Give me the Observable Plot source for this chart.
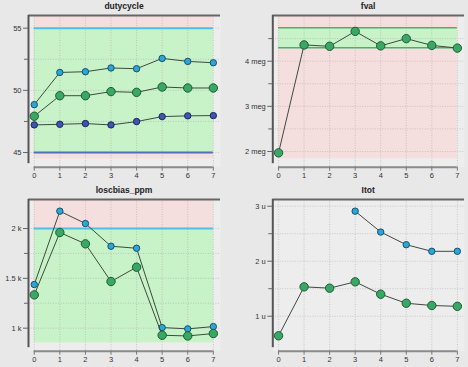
<!DOCTYPE html>
<html><head><meta charset="utf-8">
<script src="https://cdn.jsdelivr.net/npm/d3@7"></script>
<script src="https://cdn.jsdelivr.net/npm/@observablehq/plot@0.6"></script>
<style>
body{margin:0;background:#e8e8e8;font-family:"Liberation Sans",Arial,sans-serif}
#wrap{position:relative;width:468px;height:367px;overflow:hidden}
.panel{position:absolute;width:234px;height:184px}
.title{position:absolute;top:0;height:12px;font-weight:bold;font-size:8.5px;text-align:center;line-height:12px;color:#222}
.panel svg{position:absolute;top:12px;left:0}
</style></head>
<body><div id="wrap"></div>
<script>
// ---- data ----
const steps = [0,1,2,3,4,5,6,7];

const dutyHigh = [48.85,51.44,51.5,51.8,51.74,52.57,52.33,52.22];
const dutyMid  = [47.92,49.57,49.57,49.9,49.84,50.27,50.19,50.19];
const dutyLow  = [47.22,47.27,47.33,47.22,47.49,47.89,47.95,47.97];
const dutyLimits = [45,55];
const dutyTicks = [45,50,55];
const dutyMinor = [47.5,52.5];

const fvalMeg = [1.97,4.36,4.33,4.66,4.34,4.50,4.35,4.29];
const fvalLimits = [4.3,4.74];
const fvalTicks = [2,3,4];
const fvalMinor = [2.5,3.5,4.5];

const loscHigh = [1438,2174,2050,1822,1802,1006,993,1016];
const loscMid  = [1334,1960,1846,1468,1612,929,922,946];
const loscLimit = [2000];
const loscTicks = [1000,1500,2000];
const loscMinor = [1250,1750];

const itotHigh = [null,null,null,2.91,2.53,2.30,2.18,2.18];
const itotMid  = [0.644,1.534,1.51,1.625,1.40,1.236,1.195,1.18];
const itotTicks = [1,2,3];
const itotMinor = [1.5,2.5];

const titles = ["dutycycle","fval","loscbias_ppm","Itot"];

// ---- styles ----
const PINK = "#f5dede", GREEN = "#c8f2c8", PLOTBG = "#ededed";
const LINE = "#3e4a3e";
const CYAN = {fill:"#2ba7d6", stroke:"#1b4f6e", r:3.2};
const GRN  = {fill:"#3aa865", stroke:"#1f5a36", r:4.2};
const BLUE = {fill:"#3e56b2", stroke:"#18265e", r:3.2};

const rows = arr => steps.map((s,i)=>({step:s, value:arr[i]})).filter(d=>d.value!=null);

function series(arr, st){
  const r = rows(arr);
  return [
    Plot.line(r,{x:"step",y:"value",stroke:LINE,strokeWidth:1}),
    Plot.dot(r,{x:"step",y:"value",r:st.r,fill:st.fill,stroke:st.stroke,strokeWidth:1})
  ];
}

function panel({left, top, title, mLeft, mRight, xDom, yDom, ticks, minor, fmt, bands, limitLines, ser}){
  const div = document.createElement("div");
  div.className="panel"; div.style.left=left+"px"; div.style.top=top+"px";
  const t = document.createElement("div");
  t.className="title"; t.textContent=title;
  t.style.left=mLeft+"px"; t.style.width=(234-mLeft-mRight)+"px";
  div.appendChild(t);
  const chart = Plot.plot({
    width:234, height:172, marginLeft:mLeft, marginRight:mRight, marginTop:3, marginBottom:17.3,
    style:{background:"transparent", fontFamily:"Liberation Sans, Arial, sans-serif", fontSize:"7.5px", color:"#333", overflow:"visible"},
    x:{domain:xDom, label:null},
    y:{domain:yDom, label:null},
    marks:[
      Plot.frame({fill:PLOTBG, stroke:null}),
      ...bands,
      Plot.ruleX(steps,{stroke:"#aaa",strokeOpacity:0.55,strokeDasharray:"1,1.5"}),
      Plot.ruleY([...ticks,...minor],{stroke:"#aaa",strokeOpacity:0.55,strokeDasharray:"1,1.5"}),
      ...limitLines,
      ...ser,
      Plot.ruleY([yDom[0]],{x1:steps[0],x2:steps[steps.length-1],stroke:"#8a8a8a",strokeWidth:2}),
      Plot.ruleY([yDom[1]],{stroke:"#666",strokeWidth:2}),
      Plot.ruleX([xDom[0]],{stroke:"#555",strokeWidth:2,insetBottom:3.5}),
      Plot.axisX(steps,{tickSize:4,tickPadding:1.5,label:null,stroke:"#777",fill:"#333"}),
      Plot.axisY(ticks,{tickSize:5,tickPadding:2,tickFormat:fmt,label:null,stroke:"#666",fill:"#333"}),
      Plot.axisY(minor,{tickSize:4,tickFormat:()=>"",label:null,stroke:"#666"})
    ]
  });
  div.appendChild(chart);
  document.getElementById("wrap").appendChild(div);
}

const xDom = [-0.225, 7.28];

// dutycycle
panel({left:0, top:0, title:titles[0], mLeft:28, mRight:14, xDom, yDom:[43.82,56.02],
  ticks:dutyTicks, minor:dutyMinor, fmt:d=>`${d}`,
  bands:[
    Plot.rect([0],{x1:steps[0],x2:steps[7],y1:43.82,y2:56.02,fill:PINK,insetBottom:8.5,insetTop:0.7}),
    Plot.rect([0],{x1:steps[0],x2:steps[7],y1:dutyLimits[0],y2:dutyLimits[1],fill:GREEN})
  ],
  limitLines:[
    Plot.ruleY([dutyLimits[1]],{x1:steps[0],x2:steps[7],stroke:"#4cc0e8",strokeWidth:2}),
    Plot.ruleY([dutyLimits[0]],{x1:steps[0],x2:steps[7],stroke:"#4f70b8",strokeWidth:2})
  ],
  ser:[...series(dutyHigh,CYAN),...series(dutyMid,GRN),...series(dutyLow,BLUE)]
});

// fval
panel({left:234, top:0, title:titles[1], mLeft:38.3, mRight:4, xDom, yDom:[1.652,5.012],
  ticks:fvalTicks, minor:fvalMinor, fmt:d=>`${d} meg`,
  bands:[
    Plot.rect([0],{x1:steps[0],x2:steps[7],y1:1.652,y2:5.012,fill:PINK,insetBottom:8.5,insetTop:0.7}),
    Plot.rect([0],{x1:steps[0],x2:steps[7],y1:fvalLimits[0],y2:fvalLimits[1],fill:GREEN})
  ],
  limitLines:[
    Plot.ruleY(fvalLimits,{x1:steps[0],x2:steps[7],stroke:"#4fae68",strokeWidth:1.5})
  ],
  ser:[...series(fvalMeg,GRN)]
});

// loscbias_ppm
panel({left:0, top:184, title:titles[2], mLeft:28, mRight:14, xDom, yDom:[769,2291],
  ticks:loscTicks, minor:loscMinor, fmt:d=>`${d/1000} k`,
  bands:[
    Plot.rect([0],{x1:steps[0],x2:steps[7],y1:769,y2:2291,fill:PINK,insetBottom:8.5,insetTop:0.7}),
    Plot.rect([0],{x1:steps[0],x2:steps[7],y1:769,y2:loscLimit[0],fill:GREEN,insetBottom:8.5})
  ],
  limitLines:[
    Plot.ruleY(loscLimit,{x1:steps[0],x2:steps[7],stroke:"#4cc0e8",strokeWidth:2})
  ],
  ser:[...series(loscHigh,CYAN),...series(loscMid,GRN)]
});

// Itot
panel({left:234, top:184, title:titles[3], mLeft:38.3, mRight:4, xDom, yDom:[0.364,3.122],
  ticks:itotTicks, minor:itotMinor, fmt:d=>`${d} u`,
  bands:[], limitLines:[],
  ser:[...series(itotHigh,CYAN),...series(itotMid,GRN)]
});
</script>
</body></html>
